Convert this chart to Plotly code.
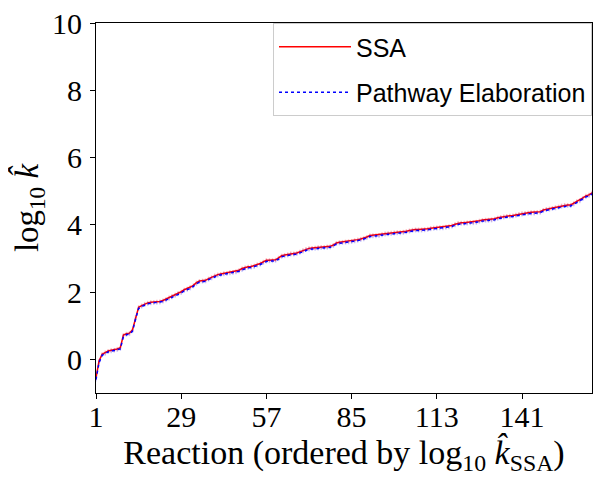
import plotly.graph_objects as go

# reaction index (ordered by log10 k_SSA)
reactions = list(range(1, 165))

ssa_log_k = [
    -0.55, -0.05, 0.15, 0.20, 0.25, 0.27, 0.28, 0.31, 0.35, 0.72,
    0.76, 0.78, 0.88, 1.25, 1.55, 1.60, 1.65, 1.68, 1.70, 1.70,
    1.71, 1.72, 1.75, 1.79, 1.84, 1.88, 1.92, 1.97, 2.01, 2.07,
    2.10, 2.15, 2.20, 2.28, 2.33, 2.34, 2.35, 2.40, 2.44, 2.49,
    2.52, 2.54, 2.56, 2.57, 2.59, 2.60, 2.62, 2.65, 2.70, 2.73,
    2.75, 2.76, 2.78, 2.82, 2.85, 2.90, 2.95, 2.95, 2.95, 2.96,
    3.02, 3.08, 3.10, 3.12, 3.15, 3.15, 3.16, 3.20, 3.24, 3.28,
    3.30, 3.31, 3.32, 3.33, 3.34, 3.34, 3.35, 3.36, 3.40, 3.46,
    3.48, 3.49, 3.50, 3.51, 3.52, 3.54, 3.56, 3.58, 3.60, 3.64,
    3.68, 3.69, 3.69, 3.70, 3.72, 3.74, 3.75, 3.76, 3.77, 3.78,
    3.78, 3.79, 3.81, 3.83, 3.85, 3.86, 3.86, 3.86, 3.87, 3.88,
    3.90, 3.91, 3.92, 3.93, 3.93, 3.94, 3.96, 3.98, 4.02, 4.05,
    4.06, 4.06, 4.07, 4.08, 4.08, 4.09, 4.12, 4.14, 4.15, 4.15,
    4.16, 4.18, 4.21, 4.23, 4.25, 4.26, 4.27, 4.28, 4.30, 4.32,
    4.34, 4.35, 4.36, 4.37, 4.37, 4.38, 4.39, 4.44, 4.47, 4.48,
    4.50, 4.52, 4.54, 4.57, 4.59, 4.59, 4.59, 4.64, 4.70, 4.73,
    4.80, 4.86, 4.89, 4.95,
]

pe_log_k = [
    -0.60, -0.10, 0.12, 0.17, 0.22, 0.24, 0.26, 0.28, 0.31, 0.68,
    0.73, 0.75, 0.84, 1.20, 1.51, 1.57, 1.62, 1.65, 1.67, 1.68,
    1.68, 1.69, 1.72, 1.76, 1.80, 1.85, 1.89, 1.94, 1.97, 2.04,
    2.07, 2.11, 2.17, 2.24, 2.30, 2.31, 2.32, 2.37, 2.41, 2.46,
    2.49, 2.51, 2.53, 2.54, 2.56, 2.57, 2.59, 2.62, 2.66, 2.70,
    2.72, 2.73, 2.75, 2.79, 2.82, 2.87, 2.91, 2.92, 2.92, 2.93,
    2.98, 3.05, 3.07, 3.09, 3.12, 3.12, 3.13, 3.17, 3.21, 3.25,
    3.27, 3.28, 3.29, 3.30, 3.31, 3.31, 3.32, 3.33, 3.37, 3.43,
    3.45, 3.46, 3.47, 3.48, 3.49, 3.51, 3.53, 3.55, 3.57, 3.61,
    3.65, 3.66, 3.66, 3.67, 3.69, 3.71, 3.72, 3.73, 3.74, 3.75,
    3.75, 3.76, 3.78, 3.80, 3.82, 3.83, 3.83, 3.83, 3.84, 3.85,
    3.87, 3.88, 3.89, 3.90, 3.90, 3.91, 3.93, 3.95, 3.99, 4.02,
    4.03, 4.03, 4.04, 4.05, 4.05, 4.06, 4.09, 4.11, 4.12, 4.12,
    4.13, 4.15, 4.18, 4.20, 4.22, 4.23, 4.24, 4.25, 4.27, 4.29,
    4.31, 4.32, 4.33, 4.34, 4.34, 4.35, 4.36, 4.41, 4.44, 4.45,
    4.47, 4.49, 4.51, 4.54, 4.56, 4.56, 4.56, 4.61, 4.67, 4.70,
    4.77, 4.83, 4.86, 4.92,
]

x_ticks = [1, 29, 57, 85, 113, 141]
y_ticks = [0, 2, 4, 6, 8, 10]

serif = "Liberation Serif"
sans = "Liberation Sans"

fig = go.Figure()

fig.add_trace(go.Scatter(
    x=reactions, y=ssa_log_k, name="SSA", mode="lines", legendgroup="ssa",
    line=dict(color="red", width=1.5),
    error_y=dict(type="constant", value=0.06, color="rgba(255,0,0,0.25)",
                 thickness=1.5, width=0),
))
fig.add_trace(go.Scatter(
    x=reactions, y=pe_log_k, name="Pathway Elaboration", mode="lines", legendgroup="pe",
    line=dict(color="blue", width=1.5, dash="dot"),
    error_y=dict(type="constant", value=0.06, color="rgba(0,0,255,0.2)",
                 thickness=1.5, width=0),
))

axis_common = dict(
    showline=True, linecolor="black", linewidth=1.2, mirror=True,
    ticks="outside", ticklen=5, tickwidth=1.2, tickcolor="black",
    showgrid=False, zeroline=False, automargin=False,
    ticklabeloverflow="allow",
    tickfont=dict(family=serif, size=30, color="black"),
)

fig.update_xaxes(
    range=[1, 164], tickvals=x_ticks, ticklabelstandoff=-8,
    title=dict(text="Reaction (ordered by log<sub>10</sub> <i>k\u0302</i><sub>SSA</sub>)",
               font=dict(family=serif, size=34, color="black"), standoff=0),
    **axis_common,
)
fig.update_yaxes(
    range=[-1, 10], tickvals=y_ticks, ticklabelstandoff=2,
    title=dict(text="log<sub>10</sub> <i>k\u0302</i>",
               font=dict(family=serif, size=33, color="black"), standoff=12),
    **axis_common,
)

# page body adds an 8px offset, so the figure is 596x485 inside a 604x493 window
fig.update_layout(
    width=596, height=485,
    margin=dict(l=88, r=12, t=15, b=100),
    plot_bgcolor="white", paper_bgcolor="white",
    showlegend=True,
    legend=dict(
        x=1, y=1, xanchor="right", yanchor="top",
        bgcolor="white", bordercolor="#cccccc", borderwidth=1,
        font=dict(family=sans, size=25, color="black"),
        itemwidth=72, tracegroupgap=10,
    ),
)

fig.write_html("out.html")
